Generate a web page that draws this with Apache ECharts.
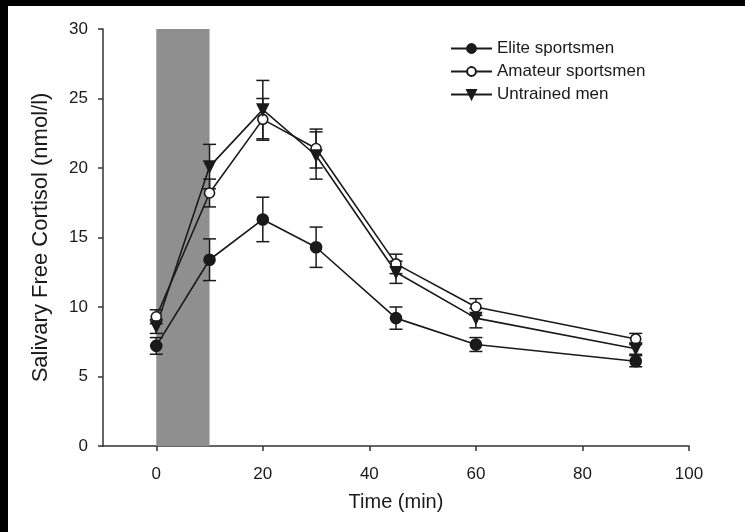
<!DOCTYPE html>
<html>
<head>
<meta charset="utf-8">
<script src="https://cdn.jsdelivr.net/npm/echarts@6/dist/echarts.min.js"></script>
<style>
  html, body { margin: 0; padding: 0; background: #000; }
  #chart { position: absolute; left: 8px; top: 6px; width: 737px; height: 526px; background: #fff; }
</style>
</head>
<body>
<div id="chart"></div>
<script>
// sampling times (min)
const times = [0, 10, 20, 30, 45, 60, 90];
const xTicks = [0, 20, 40, 60, 80, 100];

// mean and error (nmol/l)
const eliteMean = [7.2, 13.4, 16.3, 14.3, 9.2, 7.3, 6.1];
const eliteErr = [0.6, 1.5, 1.6, 1.45, 0.8, 0.5, 0.4];
const amateurMean = [9.3, 18.2, 23.5, 21.4, 13.1, 10.0, 7.7];
const amateurErr = [0.5, 1.0, 1.5, 1.4, 0.7, 0.6, 0.4];
const untrainedMean = [8.6, 20.1, 24.2, 20.9, 12.5, 9.2, 7.0];
const untrainedErr = [0.5, 1.6, 2.1, 1.7, 0.8, 0.7, 0.4];

// exercise period (min)
const exercise = [0, 10];

const font = 'Liberation Sans, Arial, sans-serif';
const ink = '#1a1a1a';

function pts(mean) {
	return times.map((t, i) => [t, mean[i]]);
}

function bars(mean, err) {
	return times.map((t, i) => [t, mean[i] - err[i], mean[i] + err[i]]);
}

function renderErr(params, api) {
	const x = api.value(0);
	const top = api.coord([x, api.value(2)]);
	const bot = api.coord([x, api.value(1)]);
	const w = 6.5;
	const st = { stroke: ink, lineWidth: 1.5 };
	return {
		type: 'group',
		children: [
			{ type: 'line', shape: { x1: top[0], y1: top[1], x2: bot[0], y2: bot[1] }, style: st },
			{ type: 'line', shape: { x1: top[0] - w, y1: top[1], x2: top[0] + w, y2: top[1] }, style: st },
			{ type: 'line', shape: { x1: bot[0] - w, y1: bot[1], x2: bot[0] + w, y2: bot[1] }, style: st }
		]
	};
}

function errSeries(mean, err) {
	return {
		type: 'custom',
		renderItem: renderErr,
		data: bars(mean, err),
		z: 3,
		silent: true
	};
}

function lineSeries(name, mean, symbol, fill, rotate, size) {
	return {
		name: name,
		type: 'line',
		data: pts(mean),
		symbol: symbol,
		symbolSize: size,
		symbolRotate: rotate,
		showAllSymbol: true,
		lineStyle: { color: ink, width: 1.6 },
		itemStyle: { color: fill, borderColor: ink, borderWidth: 1.6 },
		z: 4
	};
}

const chart = echarts.init(document.getElementById('chart'));

const elite = lineSeries('Elite sportsmen', eliteMean, 'circle', ink, 0, 11);
elite.markArea = {
	silent: true,
	itemStyle: { color: '#8f8f8f' },
	data: [[{ xAxis: exercise[0] }, { xAxis: exercise[1] }]]
};

const option = {
	animation: false,
	backgroundColor: '#fff',
	textStyle: { fontFamily: font },
	grid: { left: 95, right: 56, top: 23, bottom: 86 },
	legend: {
		data: ['Elite sportsmen', 'Amateur sportsmen', 'Untrained men'],
		orient: 'vertical',
		left: 437,
		top: 29,
		itemWidth: 41,
		itemHeight: 11,
		itemGap: 6,
		textStyle: { color: ink, fontSize: 17, fontFamily: font }
	},
	xAxis: {
		type: 'value',
		min: -10,
		max: 100,
		name: 'Time (min)',
		nameLocation: 'middle',
		nameGap: 46,
		nameTextStyle: { color: ink, fontSize: 20, fontFamily: font },
		splitLine: { show: false },
		axisLine: { onZero: false, lineStyle: { color: '#333', width: 1.5 } },
		axisTick: { show: true, customValues: xTicks, length: 5, lineStyle: { color: '#333', width: 1.5 } },
		axisLabel: { customValues: xTicks, color: ink, fontSize: 17, margin: 20, fontFamily: font }
	},
	yAxis: {
		type: 'value',
		min: 0,
		max: 30,
		interval: 5,
		name: 'Salivary Free Cortisol (nmol/l)',
		nameLocation: 'middle',
		nameGap: 51,
		nameTextStyle: { color: ink, fontSize: 22, fontFamily: font },
		splitLine: { show: false },
		axisLine: { show: true, onZero: false, lineStyle: { color: '#333', width: 1.5 } },
		axisTick: { show: true, length: 5, lineStyle: { color: '#333', width: 1.5 } },
		axisLabel: { color: ink, fontSize: 17, margin: 15, fontFamily: font }
	},
	series: [
		errSeries(eliteMean, eliteErr),
		errSeries(amateurMean, amateurErr),
		errSeries(untrainedMean, untrainedErr),
		elite,
		lineSeries('Amateur sportsmen', amateurMean, 'circle', '#fff', 0, 10),
		lineSeries('Untrained men', untrainedMean, 'triangle', ink, 180, 11)
	]
};

chart.setOption(option);
</script>
</body>
</html>
